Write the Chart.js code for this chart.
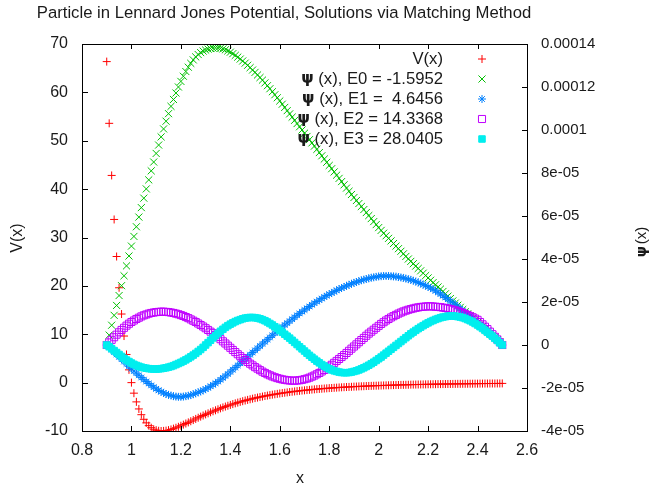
<!DOCTYPE html>
<html>
<head>
<meta charset="utf-8">
<script src="https://cdn.jsdelivr.net/npm/chart.js@4/dist/chart.umd.min.js"></script>
<style>
  html, body { margin: 0; padding: 0; background: #fff; }
  canvas { display: block; }
</style>
</head>
<body>
<canvas id="chart" width="649" height="486"></canvas>
<script>
const titleText = 'Particle in Lennard Jones Potential, Solutions via Matching Method'

// grid positions x (step 0.01)
const xs = [
  0.90, 0.91, 0.92, 0.93, 0.94, 0.95, 0.96, 0.97, 0.98, 0.99,
  1.00, 1.01, 1.02, 1.03, 1.04, 1.05, 1.06, 1.07, 1.08, 1.09,
  1.10, 1.11, 1.12, 1.13, 1.14, 1.15, 1.16, 1.17, 1.18, 1.19,
  1.20, 1.21, 1.22, 1.23, 1.24, 1.25, 1.26, 1.27, 1.28, 1.29,
  1.30, 1.31, 1.32, 1.33, 1.34, 1.35, 1.36, 1.37, 1.38, 1.39,
  1.40, 1.41, 1.42, 1.43, 1.44, 1.45, 1.46, 1.47, 1.48, 1.49,
  1.50, 1.51, 1.52, 1.53, 1.54, 1.55, 1.56, 1.57, 1.58, 1.59,
  1.60, 1.61, 1.62, 1.63, 1.64, 1.65, 1.66, 1.67, 1.68, 1.69,
  1.70, 1.71, 1.72, 1.73, 1.74, 1.75, 1.76, 1.77, 1.78, 1.79,
  1.80, 1.81, 1.82, 1.83, 1.84, 1.85, 1.86, 1.87, 1.88, 1.89,
  1.90, 1.91, 1.92, 1.93, 1.94, 1.95, 1.96, 1.97, 1.98, 1.99,
  2.00, 2.01, 2.02, 2.03, 2.04, 2.05, 2.06, 2.07, 2.08, 2.09,
  2.10, 2.11, 2.12, 2.13, 2.14, 2.15, 2.16, 2.17, 2.18, 2.19,
  2.20, 2.21, 2.22, 2.23, 2.24, 2.25, 2.26, 2.27, 2.28, 2.29,
  2.30, 2.31, 2.32, 2.33, 2.34, 2.35, 2.36, 2.37, 2.38, 2.39,
  2.40, 2.41, 2.42, 2.43, 2.44, 2.45, 2.46, 2.47, 2.48, 2.49,
  2.50
]

// V(x), left axis
const potential = [
  66.36, 53.60, 42.83, 33.73, 26.07, 19.61, 14.18, 9.63, 5.82, 2.64,
  0.00, -2.18, -3.98, -5.44, -6.63, -7.58, -8.32, -8.89, -9.32, -9.63,
  -9.83, -9.95, -10.00, -9.98, -9.92, -9.82, -9.68, -9.51, -9.33, -9.13,
  -8.91, -8.68, -8.45, -8.22, -7.98, -7.74, -7.50, -7.26, -7.03, -6.80,
  -6.57, -6.35, -6.13, -5.92, -5.72, -5.52, -5.32, -5.13, -4.95, -4.78,
  -4.61, -4.44, -4.28, -4.13, -3.98, -3.84, -3.70, -3.57, -3.44, -3.32,
  -3.20, -3.09, -2.98, -2.88, -2.77, -2.68, -2.58, -2.49, -2.41, -2.32,
  -2.24, -2.16, -2.09, -2.02, -1.95, -1.88, -1.82, -1.76, -1.70, -1.64,
  -1.59, -1.54, -1.49, -1.44, -1.39, -1.34, -1.30, -1.26, -1.22, -1.18,
  -1.14, -1.11, -1.07, -1.04, -1.00, -0.97, -0.94, -0.91, -0.89, -0.86,
  -0.83, -0.81, -0.78, -0.76, -0.74, -0.71, -0.69, -0.67, -0.65, -0.63,
  -0.62, -0.60, -0.58, -0.56, -0.55, -0.53, -0.52, -0.50, -0.49, -0.47,
  -0.46, -0.45, -0.44, -0.42, -0.41, -0.40, -0.39, -0.38, -0.37, -0.36,
  -0.35, -0.34, -0.33, -0.32, -0.31, -0.31, -0.30, -0.29, -0.28, -0.28,
  -0.27, -0.26, -0.25, -0.25, -0.24, -0.24, -0.23, -0.22, -0.22, -0.21,
  -0.21, -0.20, -0.20, -0.19, -0.19, -0.18, -0.18, -0.18, -0.17, -0.17,
  -0.16
]

// wave functions, right axis, in units of 1e-05
const psiE0 = [
  0.00, 0.46, 0.92, 1.38, 1.84, 2.30, 2.76, 3.22, 3.68, 4.14,
  4.60, 5.05, 5.50, 5.95, 6.39, 6.83, 7.26, 7.68, 8.10, 8.51,
  8.91, 9.30, 9.68, 10.05, 10.41, 10.76, 11.10, 11.42, 11.72, 12.00,
  12.26, 12.50, 12.72, 12.92, 13.10, 13.26, 13.40, 13.51, 13.60, 13.67,
  13.72, 13.76, 13.79, 13.81, 13.82, 13.82, 13.80, 13.77, 13.73, 13.68,
  13.62, 13.55, 13.47, 13.39, 13.30, 13.21, 13.11, 13.01, 12.90, 12.79,
  12.68, 12.56, 12.44, 12.32, 12.19, 12.06, 11.92, 11.78, 11.64, 11.50,
  11.35, 11.20, 11.05, 10.90, 10.75, 10.60, 10.45, 10.30, 10.15, 10.00,
  9.85, 9.70, 9.55, 9.40, 9.25, 9.10, 8.95, 8.80, 8.65, 8.50,
  8.35, 8.20, 8.05, 7.90, 7.75, 7.60, 7.45, 7.30, 7.15, 7.00,
  6.86, 6.72, 6.58, 6.44, 6.30, 6.16, 6.02, 5.88, 5.74, 5.60,
  5.46, 5.33, 5.20, 5.08, 4.96, 4.84, 4.72, 4.60, 4.48, 4.36,
  4.24, 4.12, 4.00, 3.89, 3.78, 3.67, 3.56, 3.45, 3.34, 3.23,
  3.12, 3.01, 2.90, 2.80, 2.70, 2.60, 2.49, 2.38, 2.27, 2.16,
  2.05, 1.95, 1.85, 1.75, 1.65, 1.55, 1.45, 1.35, 1.25, 1.15,
  1.05, 0.95, 0.85, 0.75, 0.65, 0.55, 0.45, 0.35, 0.25, 0.13,
  0.00
]

const psiE1 = [
  0.00, -0.11, -0.22, -0.33, -0.44, -0.55, -0.66, -0.77, -0.88, -0.99,
  -1.10, -1.21, -1.31, -1.41, -1.51, -1.61, -1.70, -1.79, -1.88, -1.96,
  -2.04, -2.11, -2.17, -2.23, -2.28, -2.32, -2.35, -2.38, -2.40, -2.41,
  -2.41, -2.40, -2.38, -2.36, -2.33, -2.29, -2.25, -2.20, -2.16, -2.11,
  -2.05, -1.99, -1.92, -1.85, -1.78, -1.70, -1.62, -1.53, -1.44, -1.35,
  -1.25, -1.15, -1.05, -0.95, -0.85, -0.75, -0.65, -0.55, -0.45, -0.35,
  -0.25, -0.15, -0.05, 0.05, 0.15, 0.25, 0.35, 0.45, 0.55, 0.65,
  0.75, 0.84, 0.93, 1.02, 1.11, 1.20, 1.29, 1.38, 1.47, 1.55,
  1.63, 1.71, 1.79, 1.87, 1.95, 2.02, 2.09, 2.16, 2.23, 2.30,
  2.36, 2.42, 2.48, 2.54, 2.60, 2.65, 2.70, 2.75, 2.80, 2.85,
  2.89, 2.93, 2.97, 3.01, 3.04, 3.07, 3.10, 3.13, 3.15, 3.17,
  3.19, 3.20, 3.21, 3.21, 3.21, 3.20, 3.19, 3.18, 3.16, 3.14,
  3.12, 3.09, 3.06, 3.03, 2.99, 2.95, 2.91, 2.86, 2.81, 2.76,
  2.71, 2.65, 2.59, 2.52, 2.45, 2.37, 2.29, 2.21, 2.13, 2.04,
  1.96, 1.87, 1.78, 1.69, 1.60, 1.51, 1.42, 1.33, 1.23, 1.13,
  1.03, 0.93, 0.83, 0.73, 0.63, 0.53, 0.43, 0.33, 0.22, 0.11,
  0.00
]

const psiE2 = [
  0.00, 0.12, 0.24, 0.36, 0.48, 0.59, 0.70, 0.80, 0.90, 0.99,
  1.07, 1.14, 1.21, 1.27, 1.33, 1.38, 1.42, 1.46, 1.49, 1.51,
  1.53, 1.54, 1.55, 1.55, 1.54, 1.53, 1.51, 1.49, 1.46, 1.43,
  1.39, 1.35, 1.30, 1.25, 1.19, 1.13, 1.07, 1.00, 0.93, 0.86,
  0.78, 0.70, 0.62, 0.55, 0.46, 0.37, 0.27, 0.17, 0.07, -0.03,
  -0.13, -0.23, -0.33, -0.43, -0.52, -0.61, -0.70, -0.79, -0.87, -0.95,
  -1.03, -1.10, -1.17, -1.24, -1.30, -1.36, -1.41, -1.46, -1.50, -1.54,
  -1.57, -1.60, -1.62, -1.64, -1.65, -1.66, -1.66, -1.65, -1.64, -1.62,
  -1.59, -1.56, -1.52, -1.47, -1.42, -1.36, -1.30, -1.23, -1.16, -1.08,
  -1.00, -0.92, -0.83, -0.74, -0.65, -0.56, -0.47, -0.37, -0.27, -0.17,
  -0.07, 0.03, 0.13, 0.23, 0.33, 0.43, 0.53, 0.62, 0.71, 0.80,
  0.89, 0.98, 1.06, 1.14, 1.21, 1.28, 1.34, 1.40, 1.46, 1.51,
  1.56, 1.60, 1.64, 1.67, 1.70, 1.73, 1.75, 1.77, 1.78, 1.79,
  1.80, 1.80, 1.79, 1.78, 1.77, 1.76, 1.74, 1.72, 1.70, 1.67,
  1.64, 1.61, 1.57, 1.53, 1.49, 1.44, 1.39, 1.34, 1.29, 1.23,
  1.17, 1.07, 0.96, 0.85, 0.74, 0.62, 0.50, 0.38, 0.26, 0.13,
  0.00
]

const psiE3 = [
  0.00, -0.08, -0.17, -0.26, -0.35, -0.44, -0.53, -0.62, -0.70, -0.77,
  -0.84, -0.90, -0.95, -0.99, -1.03, -1.06, -1.08, -1.10, -1.11, -1.12,
  -1.12, -1.11, -1.10, -1.08, -1.06, -1.03, -1.00, -0.96, -0.91, -0.86,
  -0.81, -0.75, -0.69, -0.62, -0.55, -0.47, -0.39, -0.30, -0.21, -0.11,
  0.00, 0.11, 0.22, 0.33, 0.44, 0.54, 0.64, 0.73, 0.82, 0.90,
  0.97, 1.03, 1.09, 1.14, 1.18, 1.22, 1.25, 1.27, 1.28, 1.28,
  1.27, 1.25, 1.22, 1.18, 1.13, 1.07, 1.00, 0.93, 0.85, 0.77,
  0.68, 0.59, 0.50, 0.41, 0.32, 0.22, 0.12, 0.02, -0.08, -0.18,
  -0.28, -0.38, -0.48, -0.57, -0.66, -0.75, -0.83, -0.91, -0.98, -1.05,
  -1.11, -1.16, -1.20, -1.23, -1.26, -1.28, -1.29, -1.29, -1.28, -1.26,
  -1.23, -1.20, -1.16, -1.11, -1.06, -1.00, -0.94, -0.87, -0.80, -0.72,
  -0.64, -0.56, -0.47, -0.38, -0.29, -0.20, -0.11, -0.02, 0.07, 0.16,
  0.25, 0.34, 0.43, 0.52, 0.60, 0.68, 0.76, 0.83, 0.90, 0.97,
  1.03, 1.09, 1.14, 1.19, 1.23, 1.27, 1.30, 1.32, 1.34, 1.35,
  1.35, 1.34, 1.32, 1.30, 1.27, 1.23, 1.18, 1.13, 1.07, 1.00,
  0.93, 0.85, 0.77, 0.68, 0.59, 0.50, 0.41, 0.31, 0.21, 0.10,
  0.00
]

// key texts: symbol part + rest
const seriesSymbols = ['', 'ψ', 'ψ', 'ψ', 'ψ']
const seriesLabels = [
  'V(x)',
  ' (x), E0 = -1.5952',
  ' (x), E1 =  4.6456',
  ' (x), E2 = 14.3368',
  ' (x), E3 = 28.0405'
]

const xTickValues = [0.8, 1.0, 1.2, 1.4, 1.6, 1.8, 2.0, 2.2, 2.4, 2.6]
const xTickLabels = ['0.8', '1', '1.2', '1.4', '1.6', '1.8', '2', '2.2', '2.4', '2.6']
const vTickValues = [-10, 0, 10, 20, 30, 40, 50, 60, 70]
const vTickLabels = ['-10', '0', '10', '20', '30', '40', '50', '60', '70']
const psiTickValues = [-4, -2, 0, 2, 4, 6, 8, 10, 12, 14]
const psiTickLabels = ['-4e-05', '-2e-05', '0', '2e-05', '4e-05', '6e-05', '8e-05', '0.0001', '0.00012', '0.00014']

const FONT = '"Liberation Sans", Arial, sans-serif'
const SYMFONT = '"DejaVu Sans", sans-serif'
const TEXT = '#1a1a1a'

const toPoints = arr => xs.map((x, i) => ({ x, y: arr[i] }))

// text with a leading symbol, right aligned at xr
function symText(ctx, sym, rest, xr, y, size) {
  ctx.textAlign = 'right'
  ctx.font = size + 'px ' + FONT
  ctx.fillText(rest, xr, y)
  if (sym) {
    const w = ctx.measureText(rest).width
    ctx.font = 'bold ' + (size - 1) + 'px ' + SYMFONT
    ctx.fillText(sym, xr - w, y)
  }
}

// gnuplot-like frame: border, inward ticks, titles, key
const gnuFrame = {
  id: 'gnuFrame',
  afterDatasetsDraw(chart) {
    const { ctx, chartArea: a, scales } = chart
    ctx.save()
    ctx.strokeStyle = '#000'
    ctx.lineWidth = 1
    ctx.strokeRect(a.left + 0.5, a.top + 0.5, a.right - a.left, a.bottom - a.top)

    ctx.beginPath()
    scales.x.ticks.forEach(t => {
      const px = Math.round(scales.x.getPixelForValue(t.value)) + 0.5
      ctx.moveTo(px, a.bottom); ctx.lineTo(px, a.bottom - 5)
      ctx.moveTo(px, a.top); ctx.lineTo(px, a.top + 5)
    })
    scales.y.ticks.forEach(t => {
      const py = Math.round(scales.y.getPixelForValue(t.value)) + 0.5
      ctx.moveTo(a.left, py); ctx.lineTo(a.left + 6, py)
    })
    scales.y2.ticks.forEach(t => {
      const py = Math.round(scales.y2.getPixelForValue(t.value)) + 0.5
      ctx.moveTo(a.right + 1, py); ctx.lineTo(a.right - 5, py)
    })
    ctx.stroke()

    ctx.fillStyle = TEXT
    ctx.textBaseline = 'middle'
    ctx.textAlign = 'center'
    ctx.font = '16.7px ' + FONT
    ctx.fillText(titleText, 284, 13)
    ctx.font = '16px ' + FONT
    ctx.fillText('x', 300, 479)

    ctx.save()
    ctx.translate(18, 238)
    ctx.rotate(-Math.PI / 2)
    ctx.fillText('V(x)', 0, 0)
    ctx.restore()
    ctx.save()
    ctx.translate(642, 242)
    ctx.rotate(-Math.PI / 2)
    ctx.textAlign = 'left'
    ctx.font = '15px ' + FONT
    const restW = ctx.measureText('(x)').width
    ctx.font = 'bold 14px ' + SYMFONT
    const symW = ctx.measureText('ψ').width + 2
    const x0 = -(restW + symW) / 2
    ctx.fillText('ψ', x0, 0)
    ctx.font = '15px ' + FONT
    ctx.fillText('(x)', x0 + symW, 0)
    ctx.restore()

    // key
    chart.data.datasets.forEach((ds, i) => {
      const y = 59 + i * 20
      ctx.fillStyle = TEXT
      symText(ctx, seriesSymbols[i], ds.label, 443, y, 16.7)
      ctx.strokeStyle = ds.borderColor
      ctx.fillStyle = ds.backgroundColor
      ctx.lineWidth = 1
      Chart.helpers.drawPoint(ctx, { pointStyle: ds.pointStyle, radius: ds.pointRadius, borderWidth: 1, rotation: 0 }, 482, y)
    })
    ctx.restore()
  }
}

const tickFont = { family: FONT, size: 16 }

new Chart(document.getElementById('chart'), {
  type: 'scatter',
  data: {
    datasets: [
      { label: seriesLabels[0], data: toPoints(potential), yAxisID: 'y', pointStyle: 'cross', pointRadius: 4,
        borderColor: '#ff0000', backgroundColor: '#ff0000', order: 4 },
      { label: seriesLabels[1], data: toPoints(psiE0), yAxisID: 'y2', pointStyle: 'crossRot', pointRadius: 5,
        borderColor: '#00c000', backgroundColor: '#00c000', order: 3 },
      { label: seriesLabels[2], data: toPoints(psiE1), yAxisID: 'y2', pointStyle: 'star', pointRadius: 4,
        borderColor: '#0080ff', backgroundColor: '#0080ff', order: 2 },
      { label: seriesLabels[3], data: toPoints(psiE2), yAxisID: 'y2', pointStyle: 'rect', pointRadius: 5,
        borderColor: '#c000ff', backgroundColor: 'rgba(0,0,0,0)', order: 1 },
      { label: seriesLabels[4], data: toPoints(psiE3), yAxisID: 'y2', pointStyle: 'rect', pointRadius: 4.6,
        borderColor: '#00eeee', backgroundColor: '#00eeee', order: 0 }
    ]
  },
  options: {
    responsive: false,
    animation: false,
    devicePixelRatio: 1,
    layout: { padding: { left: 0, right: 0, top: 44, bottom: 0 } },
    elements: { point: { borderWidth: 1, hoverRadius: 0 } },
    plugins: { legend: { display: false }, tooltip: { enabled: false }, title: { display: false } },
    scales: {
      x: {
        type: 'linear', min: 0.8, max: 2.6,
        grid: { display: false, drawTicks: false }, border: { display: false },
        afterBuildTicks: s => { s.ticks = xTickValues.map(v => ({ value: v })) },
        afterFit: s => { s.height = 55 },
        ticks: { padding: 10, color: TEXT, font: tickFont, maxRotation: 0,
          callback: (v, i) => xTickLabels[i] }
      },
      y: {
        position: 'left', min: -10, max: 70,
        grid: { display: false, drawTicks: false }, border: { display: false },
        afterBuildTicks: s => { s.ticks = vTickValues.map(v => ({ value: v })) },
        afterFit: s => { s.width = 82 },
        ticks: { padding: 14, color: TEXT, font: tickFont,
          callback: (v, i) => vTickLabels[i] }
      },
      y2: {
        position: 'right', min: -4, max: 14,
        grid: { display: false, drawTicks: false }, border: { display: false },
        afterBuildTicks: s => { s.ticks = psiTickValues.map(v => ({ value: v })) },
        afterFit: s => { s.width = 122 },
        ticks: { padding: 14, color: TEXT, font: { family: FONT, size: 15 },
          callback: (v, i) => psiTickLabels[i] }
      }
    }
  },
  plugins: [gnuFrame]
})
</script>
</body>
</html>
